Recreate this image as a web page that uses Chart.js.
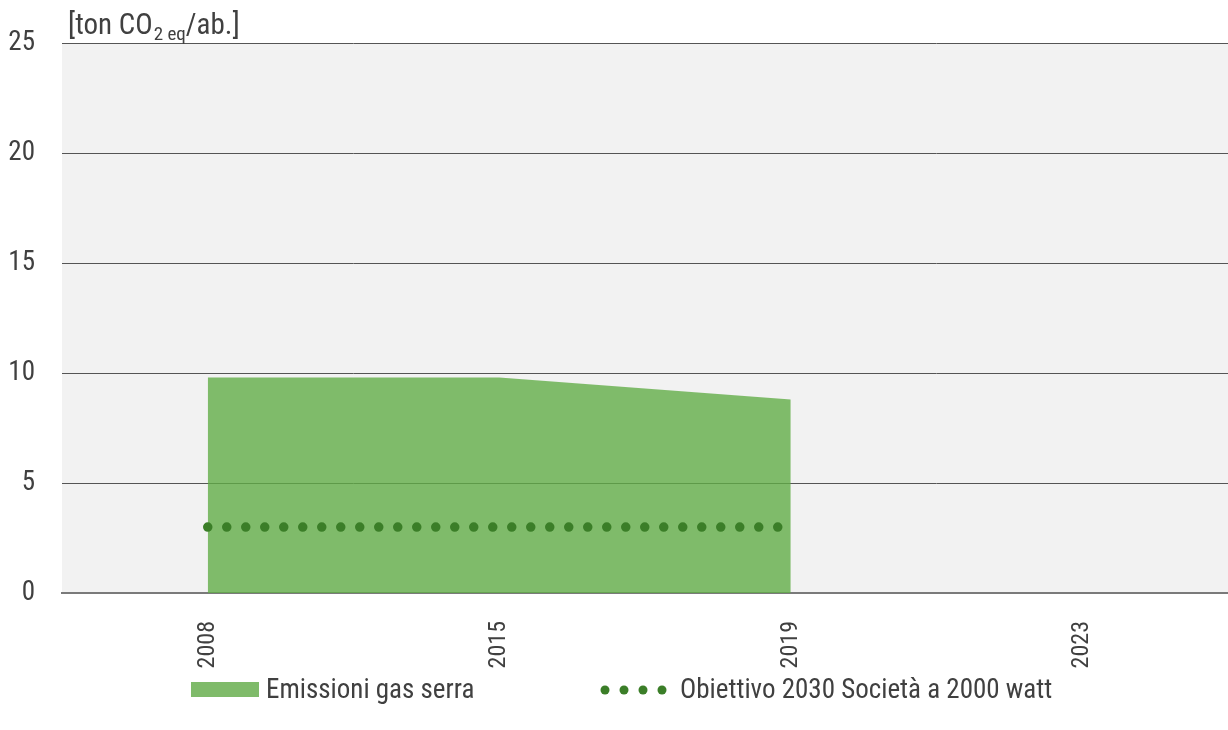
<!DOCTYPE html>
<html>
<head>
<meta charset="utf-8">
<script src="https://cdn.jsdelivr.net/npm/chart.js@4/dist/chart.umd.min.js"></script>
<style>
  html, body { margin: 0; padding: 0; background: #fff; }
  #wrap { width: 1228px; height: 730px; position: relative; }
</style>
</head>
<body>
<div id="wrap"><canvas id="emChart"></canvas></div>
<script>
// data
const years = ['2008', '2015', '2019', '2023'];
const emissions = [9.8, 9.8, 8.8, null];
const target2030 = [3, 3, 3, null];
const yTicks = [0, 5, 10, 15, 20, 25];

const FONT = '"Liberation Sans Narrow", "Roboto Condensed", Roboto, sans-serif';
const TEXT = '#404040';

// grey plot background
const bgPlugin = {
    id: 'plotBg',
    beforeDraw(chart) {
        const a = chart.chartArea;
        const ctx = chart.ctx;
        ctx.save();
        ctx.fillStyle = '#f2f2f2';
        ctx.fillRect(a.left, a.top, a.right - a.left, a.bottom - a.top);
        ctx.restore();
    }
};

// unit label with subscript + bottom legend
const extrasPlugin = {
    id: 'extras',
    afterDraw(chart) {
        const ctx = chart.ctx;
        ctx.save();
        ctx.fillStyle = TEXT;
        ctx.textBaseline = 'alphabetic';
        ctx.textAlign = 'left';
        let x = 68;
        const y = 34;
        ctx.font = '29px ' + FONT;
        ctx.fillText('[ton CO', x, y);
        x += ctx.measureText('[ton CO').width;
        ctx.font = '19px ' + FONT;
        ctx.fillText('2 eq', x + 1, y + 6);
        x += ctx.measureText('2 eq').width + 1;
        ctx.font = '29px ' + FONT;
        ctx.fillText('/ab.]', x, y);

        // legend
        const ly = 690;
        const ds0 = chart.data.datasets[0];
        const ds1 = chart.data.datasets[1];
        ctx.fillStyle = '#7fbb6a';
        ctx.fillRect(191, ly - 8, 68, 15);
        ctx.fillStyle = TEXT;
        ctx.textBaseline = 'middle';
        ctx.font = '27px ' + FONT;
        ctx.fillText(ds0.label, 266, ly + 1);

        ctx.fillStyle = ds1.borderColor;
        for (let i = 0; i < 4; i++) {
            ctx.beginPath();
            ctx.arc(605 + i * 19, ly, 4.5, 0, Math.PI * 2);
            ctx.fill();
        }
        ctx.fillStyle = TEXT;
        ctx.fillText(ds1.label, 680, ly + 1);
        ctx.restore();
    }
};

const ctx = document.getElementById('emChart').getContext('2d');
new Chart(ctx, {
    type: 'line',
    data: {
        labels: years,
        datasets: [{
            label: 'Emissioni gas serra',
            data: emissions,
            fill: 'origin',
            backgroundColor: 'rgba(96, 172, 70, 0.79)',
            borderWidth: 0,
            pointRadius: 0,
            tension: 0,
            order: 1
        }, {
            label: 'Obiettivo 2030 Società a 2000 watt',
            data: target2030,
            fill: false,
            borderColor: '#3b7e28',
            borderWidth: 9.5,
            borderDash: [0, 19],
            borderCapStyle: 'round',
            pointRadius: 0,
            tension: 0,
            order: 0
        }]
    },
    options: {
        responsive: true,
        maintainAspectRatio: false,
        animation: false,
        layout: { padding: { top: 43, right: 0, bottom: 0, left: 0 } },
        plugins: {
            legend: { display: false },
            tooltip: { enabled: false }
        },
        scales: {
            x: {
                offset: true,
                grid: { display: false, drawTicks: false },
                border: { display: true, color: '#7a7a7a', width: 2 },
                ticks: {
                    color: TEXT,
                    font: { family: FONT, size: 24 },
                    minRotation: 90,
                    maxRotation: 90,
                    padding: 28
                },
                afterFit(scale) { scale.height = 137; }
            },
            y: {
                min: 0,
                max: 25,
                afterBuildTicks(scale) { scale.ticks = yTicks.map(v => ({ value: v })); },
                grid: { color: '#555555', lineWidth: 1, drawTicks: false },
                border: { display: false },
                ticks: {
                    color: TEXT,
                    font: { family: FONT, size: 27 },
                    padding: 27
                },
                afterFit(scale) { scale.width = 62; }
            }
        }
    },
    plugins: [bgPlugin, extrasPlugin]
});
</script>
</body>
</html>
